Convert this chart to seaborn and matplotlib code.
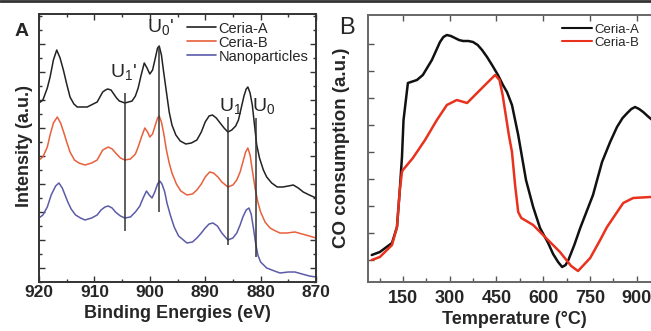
import numpy as np
import pandas as pd
import matplotlib
matplotlib.use("Agg")
import matplotlib.pyplot as plt
from matplotlib.ticker import MultipleLocator
import seaborn as sns

# ---- panel A: XPS Ce 3d spectra (intensity in arbitrary units) ----
be_a = [920, 919.3, 918.5, 918, 917.4, 916.8, 916.2, 915.6, 915.0, 914.4, 913.7, 913.1,
        911.3, 909.5, 909.0, 908.5, 908.0, 907.6, 907.0, 906.5, 906.0, 905.5, 904.5,
        903.2, 902.6, 902.1, 901.6, 901.0, 900.5, 900.0, 899.5, 899.0, 898.6, 898.3,
        897.9, 897.5, 897.0, 896.5, 896.0, 895.3, 894.5, 893.5, 892.5, 891.5, 890.7,
        890.0, 889.3, 888.7, 888.0, 887.3, 886.6, 885.9, 885.2, 884.5, 884.0, 883.5,
        883.0, 882.6, 882.3, 881.9, 881.5, 881.1, 880.7, 880.2, 879.5, 878.9, 878.0,
        877.0, 876.0, 875.0, 874.1, 873.2, 872.3, 871.2, 870]
int_a = [179, 182, 194, 205, 222, 232, 224, 212, 198, 185, 178, 175,
         175, 180, 185, 190, 192, 193, 192, 188, 184, 181, 179,
         181, 186, 194, 206, 219, 214, 208, 212, 224, 234, 236,
         227, 210, 190, 170, 157, 147, 141, 138, 139, 142, 150,
         160, 166, 167, 164, 159, 154, 150, 152, 156, 162, 174,
         186, 193, 195, 189, 177, 157, 137, 124, 112, 105, 99,
         95, 95, 96, 97, 94, 90, 87, 84]

be_b = [920, 919.3, 918.5, 918, 917.4, 916.7, 916.1, 915.5, 915.0, 914.4, 913.6, 912.8,
        911.7, 910.5, 909.5, 909.0, 908.5, 907.5, 906.8, 906.0, 905.3, 904.5, 903.5,
        902.6, 902.1, 901.5, 900.9, 900.4, 900.0, 899.5, 899.0, 898.6, 898.3, 897.9,
        897.5, 897.0, 896.5, 896.0, 895.2, 894.4, 893.3, 892.3, 891.5, 890.7, 890.0,
        889.2, 888.5, 887.7, 887.0, 885.9, 885.0, 884.3, 883.7, 883.2, 882.7, 882.3,
        881.9, 881.5, 881.0, 880.5, 880.0, 879.2, 878.3, 877.3, 876.5, 875.3, 873.8,
        872.5, 871.2, 870]
int_b = [122, 125, 135, 147, 159, 165, 159, 149, 140, 130, 122, 119,
         117, 119, 122, 127, 132, 135, 133, 128, 124, 122, 123,
         128, 135, 145, 154, 150, 145, 148, 157, 164, 166, 160,
         149, 132, 119, 109, 98, 91, 87, 88, 92, 98, 105,
         110, 109, 105, 100, 95, 97, 102, 110, 120, 130, 134,
         127, 112, 94, 80, 70, 60, 54, 51, 49, 49, 50,
         48, 46, 44]

be_n = [920, 919.3, 918.5, 917.8, 917.0, 916.4, 915.8, 915.3, 914.8, 914.2, 913.4, 912.5,
        911.7, 910.5, 909.5, 908.8, 908.1, 907.5, 906.8, 906.2, 905.3, 904.5, 903.5,
        902.6, 901.8, 901.2, 900.6, 900.1, 899.6, 899.1, 898.6, 898.2, 897.8, 897.3,
        896.9, 896.3, 895.6, 894.8, 893.3, 892.3, 891.5, 890.7, 890.0, 889.3, 888.6,
        887.8, 887.0, 885.9, 885.0, 884.3, 883.7, 883.2, 882.6, 882.1, 881.7, 881.3,
        880.9, 880.5, 880.0, 878.9, 877.5, 876.5, 875.0, 873.8, 872.5, 871.2, 870]
int_n = [64, 67, 75, 87, 96, 99, 94, 87, 80, 73, 67, 64,
         62, 64, 67, 72, 75, 76, 74, 70, 66, 64, 65,
         70, 76, 84, 91, 87, 84, 90, 98, 101, 98, 90,
         79, 67, 55, 46, 39, 40, 44, 49, 54, 58, 59,
         56, 49, 42, 44, 49, 57, 65, 72, 74, 68, 54,
         39, 27, 20, 14, 11, 9, 10, 10, 8, 6, 5]

peak_names = ["U$_1$'", "U$_0$'", "U$_1$", "U$_0$"]
peak_pos = [904.5, 898.3, 885.9, 880.8]
peak_top = [189, 236, 165, 164]
peak_bottom = [51, 70, 37, 25]
label_pos = [904.7, 898.0, 885.5, 879.4]
label_y = [200, 245, 166, 166]

# ---- panel B: CO-TPR profiles ----
temp_a = [50, 76, 115, 131, 140, 147, 152, 166, 195, 214, 243, 269, 280, 291, 304, 317,
          330, 343, 360, 375, 390, 404, 420, 436, 455, 471, 484, 500, 520, 545, 568,
          590, 616, 632, 648, 661, 672, 681, 700, 719, 760, 789, 815, 837, 855, 870,
          883, 895, 908, 921, 935, 950, 975]
co_a = [27, 30, 39, 55, 92, 125, 162, 199, 202, 207, 222, 240, 245, 247, 246, 244,
        242, 241, 241, 240, 237, 232, 225, 217, 207, 197, 190, 177, 147, 102, 75,
        54, 39, 28, 20, 15, 17, 22, 37, 54, 87, 120, 140, 155, 164, 169,
        173, 175, 173, 170, 166, 162, 156]

temp_b = [50, 76, 115, 131, 140, 147, 150, 182, 221, 259, 291, 323, 356, 388, 420, 446,
          460, 470, 480, 490, 500, 510, 520, 530, 568, 606, 654, 690, 712, 751, 783,
          805, 857, 889, 944, 975]
co_b = [22, 25, 37, 55, 92, 110, 112, 124, 142, 162, 177, 182, 179, 189, 199, 207,
        202, 187, 167, 147, 130, 97, 70, 64, 57, 45, 30, 16, 11, 24, 42,
        55, 79, 84, 85, 85]

sns.set_style("ticks")
plt.rcParams['font.family'] = ['Liberation Sans', 'DejaVu Sans']
plt.rcParams['mathtext.fontset'] = 'custom'
plt.rcParams['mathtext.rm'] = 'Liberation Sans'
plt.rcParams['mathtext.it'] = 'Liberation Sans:italic'
plt.rcParams['mathtext.bf'] = 'Liberation Sans:bold'

fig = plt.figure(figsize=(6.51, 3.31), dpi=100)
ax1 = fig.add_axes([39 / 651, 1 - 282 / 331, 277 / 651, 268 / 331])
ax2 = fig.add_axes([368 / 651, 1 - 282 / 331, 292 / 651, 267 / 331])

# panel A
df_xps = pd.concat([
    pd.DataFrame({"be": be_a, "I": int_a, "sample": "Ceria-A"}),
    pd.DataFrame({"be": be_b, "I": int_b, "sample": "Ceria-B"}),
    pd.DataFrame({"be": be_n, "I": int_n, "sample": "Nanoparticles"}),
])
pal_a = {"Ceria-A": "#222222", "Ceria-B": "#e8603c", "Nanoparticles": "#5b5ba8"}
sns.lineplot(data=df_xps, x="be", y="I", hue="sample", palette=pal_a,
             estimator=None, sort=False, lw=1.1, ax=ax1)
ax1.vlines(peak_pos, peak_bottom, peak_top, color="#333333", lw=1.1)
for name, xp, yp in zip(peak_names, label_pos, label_y):
    ax1.text(xp, yp, name, ha="center", va="bottom", fontsize=14)

ax1.set_xlim(920, 870)
ax1.set_ylim(0, 268)
ax1.xaxis.set_major_locator(MultipleLocator(10))
ax1.xaxis.set_minor_locator(MultipleLocator(5))
ax1.set_yticks(np.arange(14, 250, 28))
ax1.yaxis.set_minor_locator(MultipleLocator(14))
ax1.set_yticklabels([])
ax1.tick_params(which="both", direction="in", top=True, right=True,
                color="#333333", width=1.0)
ax1.tick_params(which="major", length=4, pad=2)
ax1.tick_params(which="minor", length=2)
for lab in ax1.get_xticklabels():
    lab.set_fontweight("bold")
    lab.set_fontsize(12.5)
ax1.set_xlabel("Binding Energies (eV)", fontsize=13, fontweight="bold", labelpad=4)
ax1.set_ylabel("Intensity (a.u.)", fontsize=13, fontweight="bold")
ax1.yaxis.set_label_coords(-0.022, 0.507)
for s in ax1.spines.values():
    s.set_linewidth(1.4)
    s.set_color("#333333")
leg1 = ax1.legend(loc="upper left", bbox_to_anchor=(0.534, 0.972), frameon=False,
                  fontsize=10.5, handlelength=2.0, handletextpad=0.15,
                  borderpad=0, borderaxespad=0, labelspacing=0.0)
for h in leg1.get_lines():
    h.set_linewidth(1.2)

# panel B
df_tpr = pd.concat([
    pd.DataFrame({"T": temp_a, "CO": co_a, "sample": "Ceria-A"}),
    pd.DataFrame({"T": temp_b, "CO": co_b, "sample": "Ceria-B"}),
])
pal_b = {"Ceria-A": "#111111", "Ceria-B": "#e8321e"}
sns.lineplot(data=df_tpr, x="T", y="CO", hue="sample", palette=pal_b,
             estimator=None, sort=False, lw=1.8, ax=ax2)
ax2.set_xlim(38, 975)
ax2.set_ylim(0, 267)
ax2.xaxis.set_major_locator(MultipleLocator(150))
ax2.xaxis.set_minor_locator(MultipleLocator(75))
ax2.set_yticks(np.arange(22, 245, 27))
ax2.set_yticklabels([])
ax2.tick_params(which="both", direction="in", top=True, color="#555555", width=1.0)
ax2.tick_params(which="major", length=4, pad=6)
ax2.tick_params(which="minor", length=3, top=False)
for lab in ax2.get_xticklabels():
    lab.set_fontweight("bold")
    lab.set_fontsize(13)
ax2.set_xlabel("Temperature (°C)", fontsize=13, fontweight="bold", labelpad=3)
ax2.set_ylabel("CO consumption (a.u.)", fontsize=13.5, fontweight="bold")
ax2.yaxis.set_label_coords(-0.062, 0.504)
for s in ax2.spines.values():
    s.set_linewidth(1.4)
    s.set_color("#666666")
leg2 = ax2.legend(loc="upper left", bbox_to_anchor=(0.664, 0.968), frameon=False,
                  fontsize=9.5, handlelength=2.3, handletextpad=0.15,
                  borderpad=0, borderaxespad=0, labelspacing=0.05)
for h in leg2.get_lines():
    h.set_linewidth(1.5)

fig.text(21.5 / 651, 1 - 32 / 331, "A", fontsize=14, fontweight="bold",
         ha="center", va="center")
fig.text(346.5 / 651, 1 - 28.5 / 331, "B", fontsize=17, ha="center", va="center")
fig.add_artist(plt.Line2D([0, 1], [0.996, 0.996], transform=fig.transFigure,
                          color="#333333", lw=2))

fig.savefig("out.png", dpi=100)
